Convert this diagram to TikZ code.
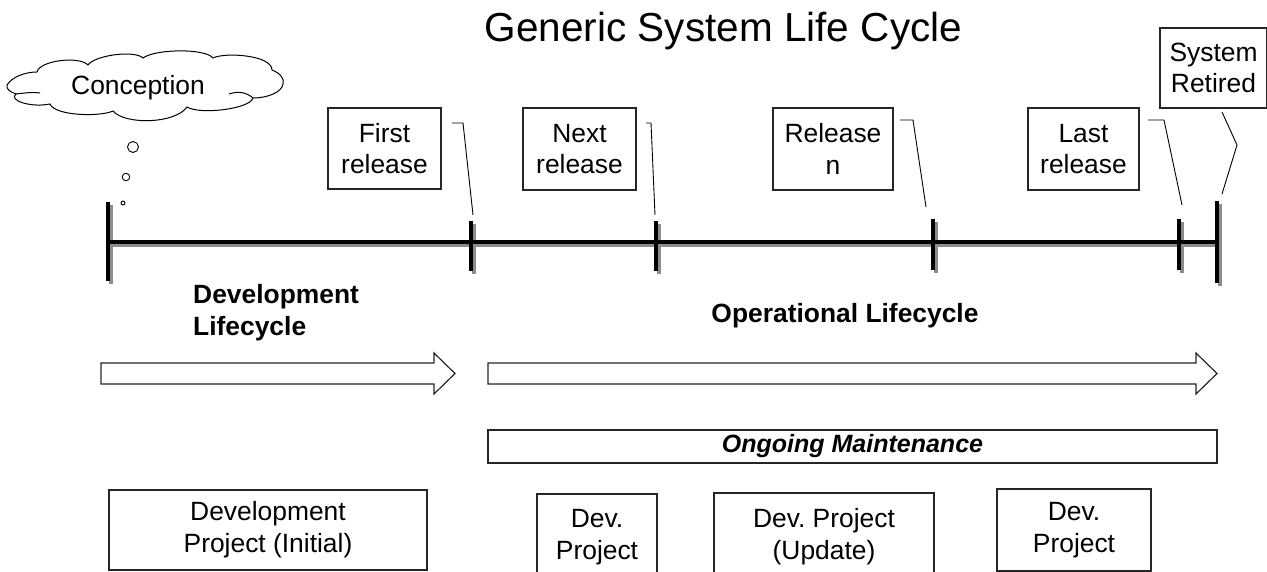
\documentclass[tikz,border=0pt]{standalone}
\usepackage{fontspec}
\setmainfont{Liberation Sans}
\usetikzlibrary{calc}
\frenchspacing
\begin{document}
\begin{tikzpicture}[x=1bp,y=-1bp,
  txt/.style={font=\fontsize{26.4bp}{31.7bp}\selectfont},
  lbl/.style={txt, draw=black!85, line width=1.1bp, inner sep=0pt, align=center},
  shadowline/.style={draw=black!45, line width=4bp},
  tl/.style={draw=black, line width=4bp},
  callout/.style={draw=black, line width=0.9bp},
  blockarrow/.style={draw=black!85, line width=1.2bp, fill=white, line join=miter},
  bub/.style={circle, draw=black, line width=0.9bp, fill=white, inner sep=0pt},
  cloudline/.style={draw=black, line width=1bp},
  hd/.style={font=\fontsize{26.4bp}{31.7bp}\selectfont\bfseries, align=left, inner sep=0pt}]
\useasboundingbox (0,0) rectangle (1267,572);

% title
\node[anchor=base, font=\fontsize{40.5bp}{48bp}\selectfont] (title) at (723.5,42) {Generic System Life Cycle};

% conception cloud
\draw[cloudline, fill=white] (7,85) .. controls (12,77) and (25,72) .. (37,72)
  .. controls (40,60) and (80,56) .. (88,65)
  .. controls (95,55) and (135,50) .. (143,58)
  .. controls (155,49) and (205,48) .. (213,58)
  .. controls (225,52) and (272,55) .. (272,70)
  .. controls (280,73) and (285,79) .. (283,84)
  .. controls (282,92) and (268,98) .. (253,98)
  .. controls (250,109) and (200,115) .. (187,107)
  .. controls (175,124) and (125,125) .. (113,111)
  .. controls (100,117) and (55,116) .. (50,104)
  .. controls (30,108) and (8,100) .. (16,94)
  .. controls (10,92) and (6,89) .. (7,85) -- cycle;
\draw[cloudline] (16,94) .. controls (24,93) and (32,92) .. (40,93);
\draw[cloudline] (253,98) .. controls (246,92) and (238,91) .. (229,94);
\node[txt] (concept) at (138,88) {Conception};
% thought bubbles
\node[bub, minimum size=11bp] (b1) at (133,147) {};
\node[bub, minimum size=7.5bp] (b2) at (126,177) {};
\node[bub, minimum size=4bp] (b3) at (123,203) {};

% timeline coordinates
\coordinate (t0a) at (108,202); \coordinate (t0b) at (108,281);
\coordinate (t1a) at (471,221); \coordinate (t1b) at (471,271);
\coordinate (t2a) at (656,221); \coordinate (t2b) at (656,271);
\coordinate (t3a) at (933,219); \coordinate (t3b) at (933,270);
\coordinate (t4a) at (1179,219); \coordinate (t4b) at (1179,270);
\coordinate (t5a) at (1217,201); \coordinate (t5b) at (1217,283);
\coordinate (ls) at (108,242); \coordinate (le) at (1217,242);

% shadows
\draw[shadowline] ($(ls)+(3,3)$) -- ($(le)+(3,3)$);
\foreach \i in {0,...,5} \draw[shadowline] ($(t\i a)+(3,3)$) -- ($(t\i b)+(3,3)$);
% black timeline
\draw[tl] (ls) -- (le);
\foreach \i in {0,...,5} \draw[tl] (t\i a) -- (t\i b);

% release labels
\node[lbl, minimum width=113bp, minimum height=81bp] (first) at (384.5,148.5) {First\\release};
\node[lbl, minimum width=113bp, minimum height=82bp] (next) at (579.5,149) {Next\\release};
\node[lbl, minimum width=120bp, minimum height=82bp] (reln) at (833,149) {Release\\n};
\node[lbl, minimum width=111bp, minimum height=82bp] (last) at (1083.5,149) {Last\\release};
\node[lbl, minimum width=107bp, minimum height=80bp] (retired) at (1213.5,68) {System\\Retired};

% callouts
\coordinate (c1a) at (452,123); \coordinate (c1b) at (463,123); \coordinate (c1c) at (473,215);
\coordinate (c2a) at (646,123); \coordinate (c2b) at (651,123); \coordinate (c2c) at (655,215);
\coordinate (c3a) at (900,120); \coordinate (c3b) at (913,120); \coordinate (c3c) at (926,207);
\coordinate (c4a) at (1148,120); \coordinate (c4b) at (1164,120); \coordinate (c4c) at (1182,205);
\coordinate (c5a) at (1222,112); \coordinate (c5b) at (1237,145); \coordinate (c5c) at (1222,194);
\foreach \i in {1,...,5} \draw[callout] (c\i a) -- (c\i b) -- (c\i c);

% headings
\node[hd, anchor=west] (devlc) at (193,313) {Development\\Lifecycle};
\node[hd, anchor=base] (oplc) at (845,323) {Operational Lifecycle};

% block arrows
\draw[blockarrow] (101,363) -- (434,363) -- (434,353) -- (455,373.5) -- (434,394) -- (434,384) -- (101,384) -- cycle;
\draw[blockarrow] (488,363) -- (1196,363) -- (1196,353) -- (1217,373.5) -- (1196,394) -- (1196,384) -- (488,384) -- cycle;

% ongoing maintenance
\node[lbl, minimum width=729bp, minimum height=33bp, font=\fontsize{25bp}{30bp}\selectfont\bfseries\itshape] (ongoing) at (852.5,446.5) {Ongoing Maintenance};

% development projects
\node[lbl, minimum width=318bp, minimum height=80bp] (devinit) at (268,530) {Development\\Project (Initial)};
\node[lbl, minimum width=120bp, minimum height=86bp] (devp1) at (597,537) {Dev.\\Project};
\node[lbl, minimum width=220bp, minimum height=87bp] (devupd) at (824,536.5) {Dev. Project\\(Update)};
\node[lbl, minimum width=154bp, minimum height=82bp] (devp2) at (1074,530) {Dev.\\Project};
\end{tikzpicture}
\end{document}
